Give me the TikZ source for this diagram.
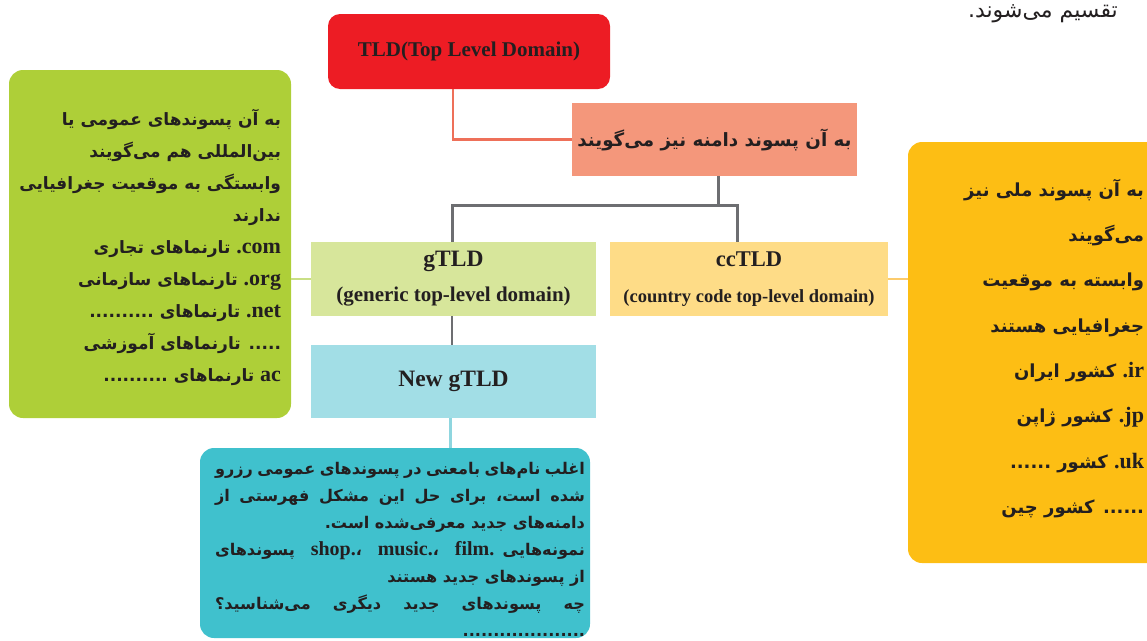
\documentclass[tikz,border=0pt]{standalone}
\usepackage{fontspec}
\setmainfont{Liberation Serif}
\newfontfamily\arfont[Script=Arabic]{DejaVu Sans}
\TeXXeTstate=1
\usetikzlibrary{calc}

\definecolor{tldred}{HTML}{ED1C24}
\definecolor{salmonfill}{HTML}{F4977B}
\definecolor{salmonline}{HTML}{EE7059}
\definecolor{grayline}{HTML}{6D6E71}
\definecolor{gfill}{HTML}{D7E69B}
\definecolor{ccfill}{HTML}{FEDC87}
\definecolor{ngfill}{HTML}{A2DEE6}
\definecolor{leftgreen}{HTML}{AECF38}
\definecolor{rightorange}{HTML}{FDBE14}
\definecolor{tealfill}{HTML}{40C1CD}
\definecolor{greenline}{HTML}{C9DF85}
\definecolor{yellowline}{HTML}{FCCB6C}
\definecolor{cyanline}{HTML}{8FD6DF}
\definecolor{ink}{HTML}{231F20}

\newcommand{\RL}[1]{\beginR #1\endR}
\newcommand{\latw}[1]{{\rmfamily\bfseries\fontsize{22}{22}\selectfont\beginL #1\endL}}
\newcommand{\lats}[1]{{\rmfamily\bfseries\fontsize{20}{20}\selectfont\beginL #1\endL}}

\tikzset{
  boxnode/.style={inner sep=0pt, outer sep=0pt, text=ink},
  artext/.style={inner sep=0pt, outer sep=0pt, text=ink, font=\arfont\bfseries},
  sline/.style={draw=salmonline, line width=2.6pt},
  gline/.style={draw=grayline, line width=3pt},
  grline/.style={draw=greenline, line width=2.6pt},
  yline/.style={draw=yellowline, line width=2.6pt},
  cline/.style={draw=cyanline, line width=3pt},
}

\begin{document}
\begin{tikzpicture}[x=1pt,y=-1pt]
\useasboundingbox (0,0) rectangle (1147,640);

% boxes
\node[boxnode, fill=tldred, rounded corners=12pt, minimum width=282pt, minimum height=75pt,
      font=\rmfamily\bfseries\fontsize{21}{24}\selectfont] (tld) at (469,51.5) {TLD(Top Level Domain)};
\node[boxnode, fill=salmonfill, minimum width=285pt, minimum height=73pt,
      font=\arfont\bfseries\fontsize{18.3}{24}\selectfont] (sal) at (714.5,139.5) {\RL{به آن پسوند دامنه نیز می‌گویند}};
\node[boxnode, fill=gfill, minimum width=285pt, minimum height=74pt, align=center,
      font=\rmfamily\bfseries\fontsize{23.5}{35}\selectfont] (gtld) at (453.5,279)
      {\raisebox{-3pt}{gTLD}\\{\fontsize{21}{35}\selectfont\raisebox{-3pt}{(generic top-level domain)}}};
\node[boxnode, fill=ccfill, minimum width=278pt, minimum height=74pt, align=center,
      font=\rmfamily\bfseries\fontsize{22.5}{35}\selectfont] (cctld) at (749,279)
      {\raisebox{-1pt}{ccTLD}\\{\fontsize{18.5}{35}\selectfont\raisebox{-2pt}{(country code top-level domain)}}};
\node[boxnode, fill=ngfill, minimum width=285pt, minimum height=73pt,
      font=\rmfamily\bfseries\fontsize{23.5}{24}\selectfont] (ngtld) at (453.5,381.5) {New gTLD};
\node[boxnode, fill=leftgreen, rounded corners=14pt, minimum width=282pt, minimum height=348pt] (lbox) at (150,244) {};
\node[boxnode, fill=rightorange, rounded corners=14pt, minimum width=254pt, minimum height=421pt] (rbox) at (1035,352.5) {};
\node[boxnode, fill=tealfill, rounded corners=14pt, minimum width=390pt, minimum height=190pt] (tbox) at (395,543) {};

% connectors
\draw[sline] (tld.south west) ++(125,0) |- (sal.west);
\coordinate (jl) at (452,205);
\coordinate (jm) at (718,205);
\coordinate (jr) at (737,205);
\coordinate (jc) at (450,430);
\draw[gline] (sal.south -| jm) -- (jm);
\draw[gline] (gtld.north -| jl) -- (jl) -- (jr) -- (cctld.north -| jr);
\draw[gline, line width=2.2pt] (gtld.south -| jl) -- (ngtld.north -| jl);
\draw[cline] (ngtld.south -| jc) -- (tbox.north -| jc);
\draw[grline] (lbox.east |- gtld.west) -- (gtld.west);
\draw[yline] (cctld.east) -- (rbox.west |- cctld.east);

% texts
\node[artext, anchor=north east, align=right, font=\arfont\bfseries\fontsize{17}{32}\selectfont] (ltext) at (281,109) {%
\RL{به آن پسوندهای عمومی یا}\\
\RL{بین‌المللی هم می‌گویند}\\
\RL{وابستگی به موقعیت جغرافیایی}\\
\RL{ندارند}\\
\RL{\latw{.com} تارنماهای تجاری}\\
\RL{\latw{.org} تارنماهای سازمانی}\\
\RL{\latw{.net} تارنماهای ..........}\\
\RL{..... تارنماهای آموزشی}\\
\RL{\latw{ac} تارنماهای ..........}};

\node[artext, anchor=north east, align=right, font=\arfont\bfseries\fontsize{18}{45.3}\selectfont] (rtext) at (1144,179) {%
\RL{به آن پسوند ملی نیز}\\
\RL{می‌گویند}\\
\RL{وابسته به موقعیت}\\
\RL{جغرافیایی هستند}\\
\RL{\latw{.ir} کشور ایران}\\
\RL{\latw{.jp} کشور ژاپن}\\
\RL{\latw{.uk} کشور ......}\\
\RL{...... کشور چین}};

\node[artext, anchor=north, align=center, font=\arfont\bfseries\fontsize{16.1}{27}\selectfont] (ttext) at (400,462) {%
\hbox to 370pt{\RL{اغلب نام‌های بامعنی در پسوندهای عمومی رزرو}}\\
\hbox to 370pt{\RL{شده است، برای حل این مشکل فهرستی از}}\\
\hbox to 370pt{\hfill\RL{دامنه‌های جدید معرفی‌شده است.}}\\
\hbox to 370pt{\RL{نمونه‌هایی \lats{film.} ،\lats{music.} ،\lats{shop.} پسوندهای}}\\
\hbox to 370pt{\hfill\RL{از پسوندهای جدید هستند}}\\
\hbox to 370pt{\RL{چه پسوندهای جدید دیگری می‌شناسید؟}}\\
\hbox to 370pt{\hfill ....................}};

\node[inner sep=0pt, text=ink, anchor=base east, font=\arfont\fontsize{22}{22}\selectfont] (topnote) at (1118,17) {\RL{تقسیم می‌شوند.}};
\end{tikzpicture}
\end{document}
